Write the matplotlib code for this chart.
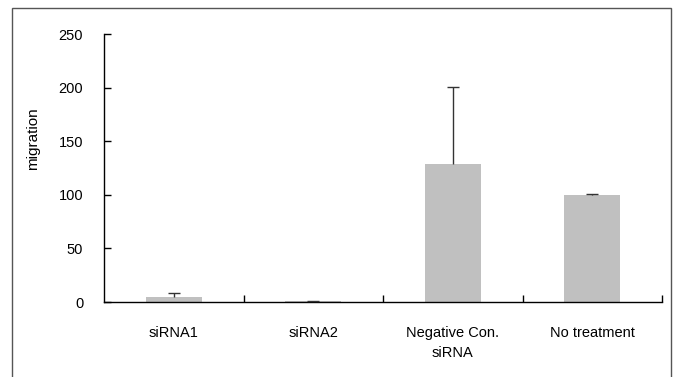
import matplotlib
matplotlib.use("Agg")
import matplotlib.pyplot as plt
from matplotlib.patches import Rectangle

plt.rcParams['font.family'] = ['Liberation Sans', 'DejaVu Sans']

categories = ['siRNA1', 'siRNA2', 'Negative Con.\nsiRNA', 'No treatment']
values = [4.5, 0.5, 129, 100]
errors = [3.5, 0.5, 71.5, 0.5]
yticks = [0, 50, 100, 150, 200, 250]

fig = plt.figure(figsize=(6.8, 3.77), dpi=100)

# outer frame around the chart area (bottom edge runs off the image)
fig.patches.append(Rectangle((12 / 680, -0.05), 659 / 680, 0.05 + (377 - 8) / 377,
                             transform=fig.transFigure, fill=False,
                             edgecolor='#555555', lw=1.0))

ax = fig.add_axes([104 / 680, 1 - 302 / 377, 558 / 680, 268 / 377])

x = list(range(len(categories)))
tops = [v + e for v, e in zip(values, errors)]
ax.bar(x, values, width=0.4, color='#c0c0c0', zorder=2)
# upper error bars only
ax.vlines(x, values, tops, colors='#333333', lw=1, zorder=3)
ax.plot(x, tops, ls='none', marker='_', ms=9, mew=1, color='#333333', zorder=3)

ax.set_xlim(-0.5, len(categories) - 0.5)
ax.set_ylim(0, 250)
ax.set_yticks(yticks)

ax.spines['top'].set_visible(False)
ax.spines['right'].set_visible(False)
for s in ('left', 'bottom'):
    ax.spines[s].set_linewidth(1.0)
    ax.spines[s].set_color('black')

ax.tick_params(axis='y', direction='in', length=5, width=1, pad=15, labelsize=10.5)
ax.set_xticks(x)
ax.set_xticklabels(categories, linespacing=1.55)
ax.set_xticks([i + 0.5 for i in x], minor=True)
ax.tick_params(axis='x', which='major', length=0, pad=17, labelsize=10.5)
ax.tick_params(axis='x', which='minor', direction='in', length=5, width=1)

ax.set_ylabel('migration', fontsize=11)
ax.yaxis.set_label_coords(-0.115, 0.61)

fig.savefig('out.png', dpi=100)
